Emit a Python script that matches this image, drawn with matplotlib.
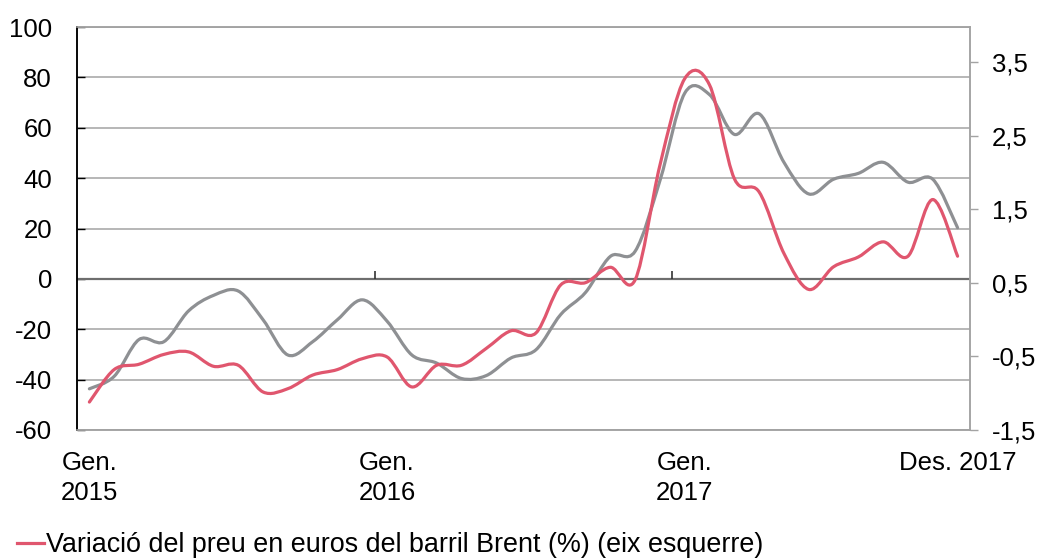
"""Brent oil price change (left axis) vs grey series (right axis), monthly Jan 2015 - Dec 2017."""
import numpy as np
import matplotlib; matplotlib.use("Agg"); import matplotlib.pyplot as plt
from matplotlib.path import Path
from matplotlib.patches import PathPatch
from matplotlib.lines import Line2D
from matplotlib.ticker import FixedLocator, FuncFormatter

plt.rcParams["font.family"] = ["Liberation Sans", "DejaVu Sans"]
plt.rcParams["axes.unicode_minus"] = False

MONTHS = np.arange(36)  # Gen. 2015 .. Des. 2017
BRENT_EUR = [-48.9, -36.0, -33.9, -30.0, -29.0, -34.7, -34.3, -44.9, -43.6, -38.2, -36.0, -31.7,
             -31.0, -42.9, -34.3, -34.3, -27.6, -20.6, -21.5, -2.4, -1.5, 4.6, -0.4, 45.1,
             79.5, 77.0, 39.8, 34.5, 10.1, -4.2, 4.8, 8.7, 14.7, 9.0, 31.5, 9.0]
GREY_RIGHT = [-0.94, -0.77, -0.27, -0.30, 0.12, 0.33, 0.39, 0.00, -0.48, -0.30, 0.00, 0.27,
              -0.02, -0.48, -0.59, -0.80, -0.76, -0.52, -0.41, 0.07, 0.37, 0.86, 0.93, 1.89,
              3.08, 3.06, 2.52, 2.80, 2.14, 1.71, 1.91, 1.99, 2.14, 1.87, 1.91, 1.25]
XTICKS = [0, 12, 24, 35]
XLABELS = ["Gen.\n2015", "Gen.\n2016", "Gen.\n2017", "Des. 2017"]
YEAR_START = [12, 24]
LEGEND = "Variació del preu en euros del barril Brent (%) (eix esquerre)"

RED = "#e0566e"; GREY = "#8e9093"; GRID = "#a3a3a3"


def smooth_path(x, y):
    """Excel-like smoothed line: cubic Bezier through every point (Catmull-Rom tangents)."""
    p = np.column_stack([x, y]).astype(float)
    ext = np.vstack([p[0], p, p[-1]])
    verts = [p[0]]; codes = [Path.MOVETO]
    for i in range(len(p) - 1):
        p0, p1, p2, p3 = ext[i], ext[i + 1], ext[i + 2], ext[i + 3]
        verts += [p1 + (p2 - p0) / 6, p2 - (p3 - p1) / 6, p2]
        codes += [Path.CURVE4] * 3
    return Path(verts, codes)


fig = plt.figure(figsize=(10.43, 5.58), dpi=100)
ax = fig.add_axes([0.0738, 0.2294, 0.8562, 0.7222])
ax2 = ax.twinx()

ax.set_xlim(-0.5, 35.5); ax.set_ylim(-60, 100)
ax2.set_ylim(-1.5, 3.98)

ax.set_yticks(np.arange(-60, 101, 20))
ax.grid(axis="y", color=GRID, lw=1.1); ax.set_axisbelow(True)
ax.axhline(0, color="#6e6e6e", lw=1.6, zorder=1.5)
ax.vlines([b - 0.5 for b in YEAR_START], 0, 3.2, color="#333333", lw=1.2, zorder=1.6)

ax.set_xticks(XTICKS); ax.set_xticklabels(XLABELS, linespacing=1.3)
ax.tick_params(axis="x", length=0, pad=15, labelsize=18.5)
ax.tick_params(axis="y", direction="in", length=6, width=1, color="black", pad=18, labelsize=18.5)

ax2.yaxis.set_major_locator(FixedLocator(np.arange(-1.5, 3.6, 1.0)))
ax2.yaxis.set_major_formatter(FuncFormatter(lambda v, _: f"{v:.1f}".replace(".", ",")))
ax2.tick_params(axis="y", direction="out", length=6, width=1, color=GRID, pad=10, labelsize=18.5)

for a in (ax, ax2):
    for s in ("top", "bottom", "right"):
        a.spines[s].set_color(GRID); a.spines[s].set_linewidth(1.1)
    a.spines["left"].set_color("black"); a.spines["left"].set_linewidth(1.1)

ax2.add_patch(PathPatch(smooth_path(MONTHS, GREY_RIGHT), fill=False, edgecolor=GREY, lw=2.3,
                        capstyle="round", joinstyle="round"))
ax2.add_patch(PathPatch(smooth_path(MONTHS, BRENT_EUR), fill=False, edgecolor=RED, lw=2.3,
                        capstyle="round", joinstyle="round", transform=ax.transData))

fig.legend(handles=[Line2D([], [], color=RED, lw=2.3)], labels=[LEGEND], loc="center left",
           bbox_to_anchor=(0.016, 1 - 545 / 558), frameon=False, fontsize=19.4,
           handlelength=1.0, handletextpad=0.1, borderpad=0, borderaxespad=0)

fig.savefig("out.png", dpi=100)
